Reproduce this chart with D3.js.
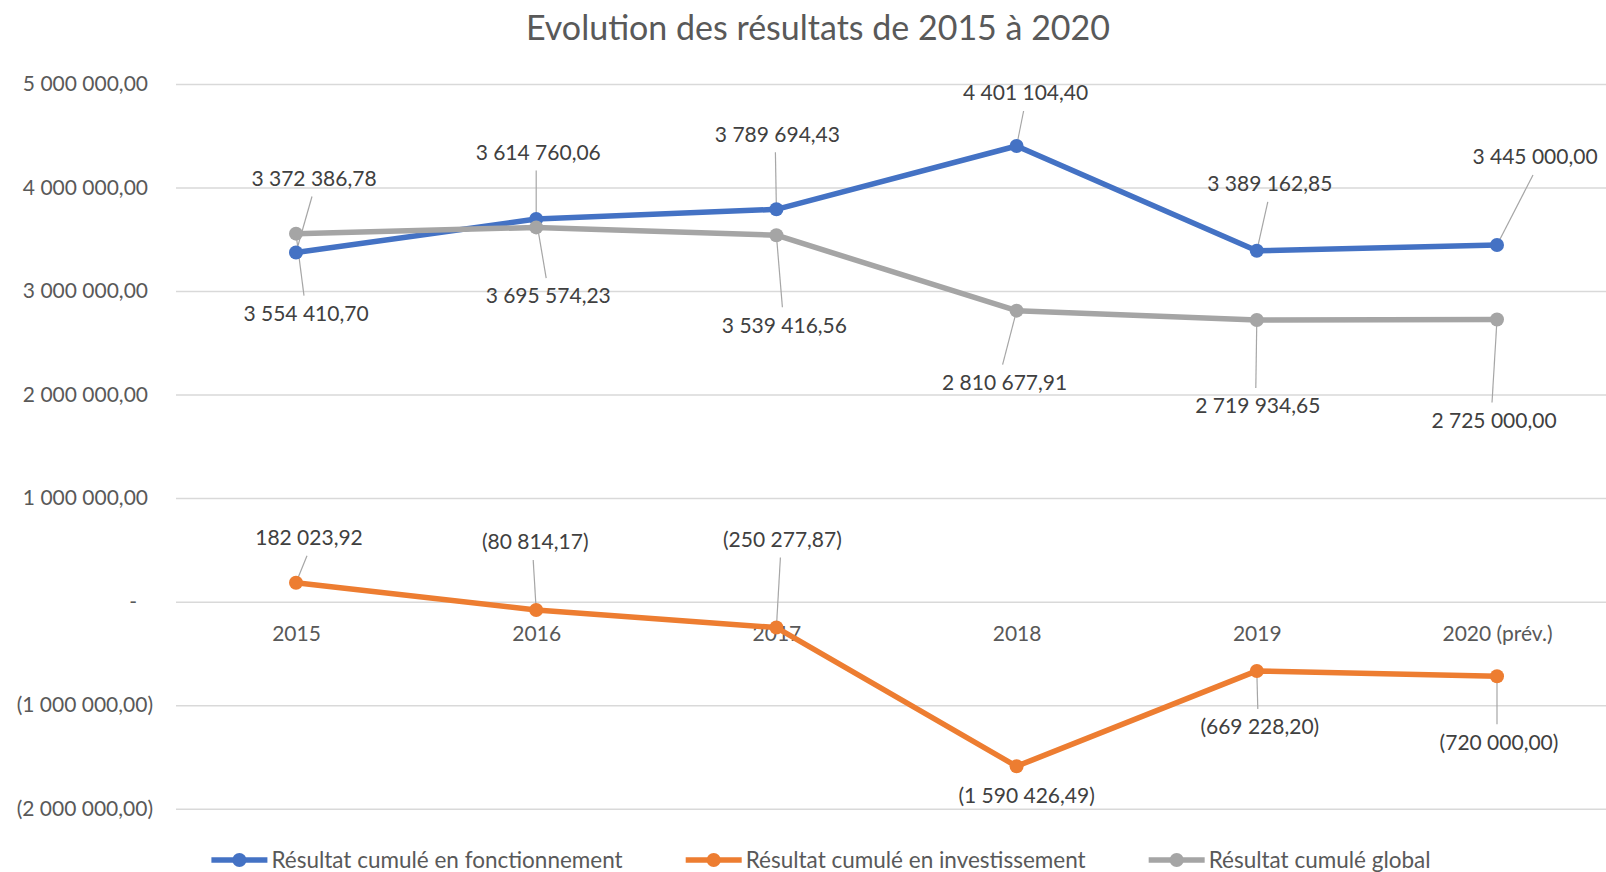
<!DOCTYPE html>
<html>
<head>
<meta charset="utf-8">
<script src="https://cdn.jsdelivr.net/npm/d3@7"></script>
<style>
  body { margin: 0; background: #fff; }
  svg text { font-family: Lato, "Open Sans", sans-serif; }
</style>
</head>
<body>
<div id="chart"></div>
<script>
const years = ["2015", "2016", "2017", "2018", "2019", "2020 (prév.)"];
const fonctionnement = [3372386.78, 3695574.23, 3789694.43, 4401104.40, 3389162.85, 3445000.00];
const investissement = [182023.92, -80814.17, -250277.87, -1590426.49, -669228.20, -720000.00];
const global = [3554410.70, 3614760.06, 3539416.56, 2810677.91, 2719934.65, 2725000.00];
const seriesNames = ["Résultat cumulé en fonctionnement", "Résultat cumulé en investissement", "Résultat cumulé global"];
const yTicks = [-2000000, -1000000, 0, 1000000, 2000000, 3000000, 4000000, 5000000];

// label placement relative to each point (layout only)
const labelOffsets = [
    [[18, -74], [12, 77], [1, -75], [9, -53], [13, -67], [38, -88]],
    [[13, -45], [-1, -68], [6, -88], [10, 29], [3, 56], [2, 66]],
    [[10, 80], [2, -75], [8, 90], [-12, 72], [1, 86], [-3, 101]]
];

const W = 1606, H = 872;
const plotLeft = 176, plotRight = 1606, plotTop = 84, plotBottom = 808.7;
const colors = ["#4472C4", "#ED7D31", "#A5A5A5"];

const svg = d3.select("#chart")
    .append("svg")
    .attr("width", W)
    .attr("height", H);

const x = d3.scalePoint()
    .domain(years)
    .range([296, 1497]);

const y = d3.scaleLinear()
    .domain([-2000000, 5000000])
    .range([plotBottom, plotTop]);

const loc = d3.formatLocale({decimal: ",", thousands: " ", grouping: [3], currency: ["", ""]});
const f2 = loc.format(",.2f");
const fmt = v => v < 0 ? `(${f2(-v)})` : f2(v);
const tickFmt = v => v === 0 ? "-" : fmt(v);

// title
svg.append("text")
    .attr("x", 818)
    .attr("y", 40)
    .attr("text-anchor", "middle")
    .style("font-size", "34px")
    .style("fill", "#595959")
    .text("Evolution des résultats de 2015 à 2020");

// y axis with gridlines
const yAxis = svg.append("g")
    .attr("transform", `translate(${plotLeft},0)`)
    .call(d3.axisLeft(y).tickValues(yTicks).tickFormat(tickFmt).tickSize(-(plotRight - plotLeft)).tickPadding(28));

yAxis.select(".domain").remove();
yAxis.selectAll(".tick line")
    .attr("stroke", "#D9D9D9")
    .attr("stroke-width", 1.5);
yAxis.selectAll(".tick text")
    .style("font-size", "21px")
    .style("fill", "#595959")
    .attr("x", d => d < 0 ? -23 : (d === 0 ? -39 : -28));

// category labels
const xAxis = svg.append("g")
    .attr("transform", `translate(0,${y(0)})`)
    .call(d3.axisBottom(x).tickSize(0).tickPadding(24));
xAxis.select(".domain").remove();
xAxis.selectAll(".tick text")
    .style("font-size", "21px")
    .style("fill", "#595959");

const allSeries = [fonctionnement, investissement, global];

// leader lines
const leaders = svg.append("g");
allSeries.forEach((vals, s) => {
    vals.forEach((v, i) => {
        const px = x(years[i]), py = y(v);
        const [dx, dy] = labelOffsets[s][i];
        const lx = px + dx - 2;
        const ly = py + dy + (dy < 0 ? 18 : -18);
        if (Math.abs(ly - py) > 15) {
            leaders.append("line")
                .attr("x1", lx).attr("y1", ly)
                .attr("x2", px).attr("y2", py)
                .attr("stroke", "#A6A6A6")
                .attr("stroke-width", 1.2);
        }
    });
});

// lines and markers
const line = d3.line()
    .x((d, i) => x(years[i]))
    .y(d => y(d));

allSeries.forEach((vals, s) => {
    svg.append("path")
        .datum(vals)
        .attr("d", line)
        .attr("fill", "none")
        .attr("stroke", colors[s])
        .attr("stroke-width", 5.5)
        .attr("stroke-linejoin", "round")
        .attr("stroke-linecap", "round");

    svg.append("g")
        .selectAll("circle")
        .data(vals)
        .enter()
        .append("circle")
        .attr("cx", (d, i) => x(years[i]))
        .attr("cy", d => y(d))
        .attr("r", 7)
        .attr("fill", colors[s]);
});

// data labels
allSeries.forEach((vals, s) => {
    svg.append("g")
        .selectAll("text")
        .data(vals)
        .enter()
        .append("text")
        .attr("x", (d, i) => x(years[i]) + labelOffsets[s][i][0])
        .attr("y", (d, i) => y(d) + labelOffsets[s][i][1])
        .attr("dy", "0.35em")
        .attr("text-anchor", "middle")
        .style("font-size", "21px")
        .style("fill", "#404040")
        .text(d => fmt(d));
});

// legend
const legend = svg.append("g");
const items = seriesNames.map((n, s) => {
    const g = legend.append("g");
    g.append("line")
        .attr("x1", 0).attr("x2", 56)
        .attr("y1", 0).attr("y2", 0)
        .attr("stroke", colors[s])
        .attr("stroke-width", 5.5);
    g.append("circle")
        .attr("cx", 28).attr("cy", 0)
        .attr("r", 7)
        .attr("fill", colors[s]);
    const t = g.append("text")
        .attr("x", 60)
        .attr("dy", "0.35em")
        .style("font-size", "22.5px")
        .style("fill", "#595959")
        .text(n);
    return {g, w: 60 + t.node().getComputedTextLength()};
});
const gap = 63;
const total = d3.sum(items, d => d.w) + gap * (items.length - 1);
let lx0 = 821 - total / 2;
items.forEach(it => {
    it.g.attr("transform", `translate(${lx0},860)`);
    lx0 += it.w + gap;
});
</script>
</body>
</html>
